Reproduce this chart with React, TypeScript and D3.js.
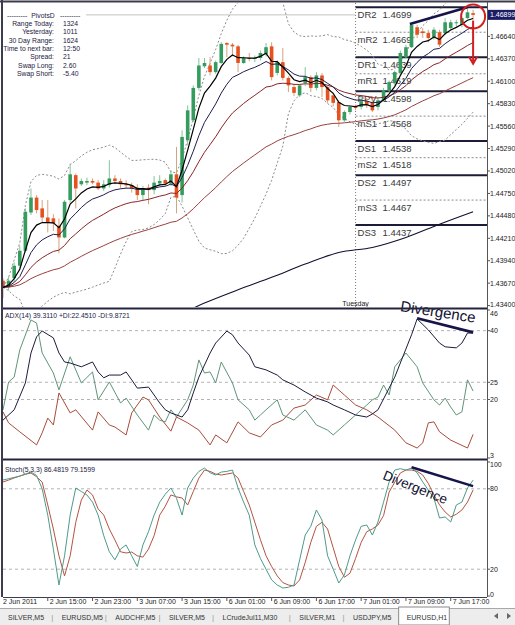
import React from "react";
import * as d3 from "d3";

const W = 515;
const H = 625;
const FONT = "'Liberation Sans', Arial, sans-serif";

// EURUSD H1 candles
const opens = [
  1.4370, 1.4362, 1.4373, 1.4388, 1.4406, 1.4452, 1.4470, 1.4457, 1.4446, 1.4445,
  1.4436, 1.4422, 1.4467, 1.4497, 1.4486, 1.4488, 1.4490, 1.4488, 1.4481, 1.4485,
  1.4493, 1.4490, 1.4486, 1.4485, 1.4482, 1.4473, 1.4482, 1.4479, 1.4487, 1.4491,
  1.4487, 1.4498, 1.4473, 1.4539, 1.4563, 1.4602, 1.4628, 1.4629, 1.4621, 1.4632,
  1.4656, 1.4654, 1.4652, 1.4632, 1.4638, 1.4637, 1.4638, 1.4643, 1.4652, 1.4620,
  1.4633, 1.4614, 1.4603, 1.4593, 1.4608, 1.4615, 1.4602, 1.4617, 1.4603, 1.4593,
  1.4585, 1.4563, 1.4573, 1.4579, 1.4579, 1.4586, 1.4585, 1.4579, 1.4587, 1.4599,
  1.4608, 1.4620, 1.4639, 1.4651, 1.4675, 1.4670, 1.4668, 1.4663, 1.4669, 1.4668,
  1.4674, 1.4680, 1.4678, 1.4686, 1.4692,
];
const highs = [
  1.4373, 1.4375, 1.4392, 1.4412, 1.4457, 1.4481, 1.4473, 1.4467, 1.4467, 1.4450,
  1.4445, 1.4467, 1.4511, 1.4499, 1.4493, 1.4494, 1.4493, 1.4491, 1.4491, 1.4515,
  1.4497, 1.4493, 1.4491, 1.4488, 1.4486, 1.4484, 1.4486, 1.4496, 1.4497, 1.4493,
  1.4503, 1.4531, 1.4551, 1.4581, 1.4605, 1.4638, 1.4638, 1.4639, 1.4635, 1.4657,
  1.4657, 1.4656, 1.4654, 1.4640, 1.4644, 1.4641, 1.4647, 1.4656, 1.4657, 1.4635,
  1.4650, 1.4616, 1.4606, 1.4606, 1.4627, 1.4617, 1.4621, 1.4620, 1.4605, 1.4596,
  1.4587, 1.4575, 1.4581, 1.4582, 1.4593, 1.4590, 1.4592, 1.4591, 1.4602, 1.4611,
  1.4623, 1.4647, 1.4654, 1.4680, 1.4678, 1.4674, 1.4672, 1.4675, 1.4672, 1.4686,
  1.4684, 1.4684, 1.4688, 1.4697, 1.4696,
];
const lows = [
  1.4349, 1.4358, 1.4368, 1.4385, 1.4404, 1.4449, 1.4451, 1.4440, 1.4428, 1.4430,
  1.4403, 1.4421, 1.4464, 1.4457, 1.4484, 1.4485, 1.4486, 1.4479, 1.4478, 1.4482,
  1.4486, 1.4481, 1.4481, 1.4476, 1.4467, 1.4467, 1.4462, 1.4474, 1.4484, 1.4484,
  1.4484, 1.4451, 1.4464, 1.4533, 1.4561, 1.4599, 1.4626, 1.4617, 1.4619, 1.4631,
  1.4639, 1.4640, 1.4621, 1.4631, 1.4634, 1.4633, 1.4635, 1.4640, 1.4611, 1.4617,
  1.4611, 1.4597, 1.4592, 1.4591, 1.4604, 1.4597, 1.4599, 1.4591, 1.4584, 1.4580,
  1.4555, 1.4561, 1.4570, 1.4575, 1.4576, 1.4578, 1.4573, 1.4575, 1.4585, 1.4597,
  1.4605, 1.4617, 1.4637, 1.4650, 1.4662, 1.4662, 1.4657, 1.4660, 1.4651, 1.4666,
  1.4672, 1.4676, 1.4675, 1.4685, 1.4684,
];
const closes = [
  1.4362, 1.4370, 1.4388, 1.4406, 1.4453, 1.4470, 1.4455, 1.4446, 1.4440, 1.4439,
  1.4422, 1.4465, 1.4498, 1.4481, 1.4490, 1.4490, 1.4488, 1.4481, 1.4486, 1.4493,
  1.4490, 1.4486, 1.4485, 1.4481, 1.4473, 1.4481, 1.4479, 1.4488, 1.4490, 1.4487,
  1.4498, 1.4470, 1.4543, 1.4575, 1.4602, 1.4629, 1.4632, 1.4621, 1.4633, 1.4655,
  1.4654, 1.4652, 1.4632, 1.4638, 1.4637, 1.4638, 1.4644, 1.4651, 1.4615, 1.4633,
  1.4614, 1.4605, 1.4596, 1.4605, 1.4615, 1.4602, 1.4617, 1.4603, 1.4587, 1.4584,
  1.4563, 1.4573, 1.4579, 1.4578, 1.4586, 1.4582, 1.4575, 1.4587, 1.4599, 1.4609,
  1.4621, 1.4644, 1.4651, 1.4678, 1.4666, 1.4668, 1.4662, 1.4672, 1.4654, 1.4681,
  1.4681, 1.4681, 1.4686, 1.4693, 1.46899,
];

const timeTickBars = [0, 8, 16, 24, 32, 40, 48, 56, 64, 72, 80];
const timeTickLabels = [
  "2 Jun 2011", "2 Jun 15:00", "2 Jun 23:00", "3 Jun 07:00", "3 Jun 15:00", "6 Jun 01:00",
  "6 Jun 09:00", "6 Jun 17:00", "7 Jun 01:00", "7 Jun 09:00", "7 Jun 17:00",
];
const dayBar = 63;
const dayLabel = "Tuesday";

const pivotNames = ["DR2", "mR2", "DR1", "mR1", "PPV", "mS1", "DS1", "mS2", "DS2", "mS3", "DS3"];
const pivotValues = [1.4699, 1.4669, 1.4639, 1.4619, 1.4598, 1.4568, 1.4538, 1.4518, 1.4497, 1.4467, 1.4437];

const priceTicks = [1.4664, 1.4637, 1.461, 1.4583, 1.4556, 1.4529, 1.4502, 1.4475, 1.4448, 1.4421, 1.4394, 1.4367, 1.434];
const lastPrice = 1.46899;

// long moving average (history before the window), read at sample bars
const ma200: [number, number][] = [
  [30, 1.4324], [36, 1.4343], [42, 1.4359], [48, 1.4374], [54, 1.439],
  [60, 1.4404], [66, 1.441], [72, 1.4422], [78, 1.4438], [84, 1.4453],
];

const adxLine: [number, number][] = [
  [0, 14.0], [2, 17.0], [4, 24.8], [5, 33.5], [6, 38.2], [7, 39.9], [9, 37.9], [10, 33.5], [11, 30.9],
  [12, 30.6], [14, 29.5], [16, 30.9], [17, 28.0], [18, 26.3], [19, 27.1], [21, 27.1], [22, 28.0],
  [23, 25.7], [24, 23.3], [26, 23.6], [27, 21.3], [28, 19.0], [29, 17.0], [30, 16.1], [32, 14.9],
  [33, 17.0], [34, 21.9], [35, 26.5], [37, 33.5], [38, 36.4], [40, 39.9], [41, 38.8], [42, 36.4],
  [44, 32.9], [45, 29.5], [47, 28.6], [49, 27.1], [50, 25.7], [52, 24.2], [54, 22.2], [56, 20.4],
  [58, 19.3], [59, 18.4], [61, 17.0], [63, 15.5], [65, 14.9], [66, 15.8], [67, 17.0], [70, 26.5],
  [73, 38.8], [74, 43.4], [76, 40.2], [78, 36.4], [79, 35.3], [81, 35.0], [82, 36.4], [83, 39.3],
  [84, 39.311],
];
const plusDi: [number, number][] = [
  [0, 17.0], [1, 25.1], [2, 26.5], [3, 34.4], [5, 43.1], [6, 42.2], [7, 33.5], [9, 27.7], [10, 22.8],
  [12, 32.4], [14, 24.8], [16, 28.0], [17, 19.9], [19, 25.1], [21, 19.0], [22, 20.4], [24, 15.5],
  [26, 11.1], [27, 15.5], [28, 14.0], [29, 13.5], [30, 17.0], [31, 14.9], [33, 19.9], [34, 24.2],
  [35, 31.5], [36, 27.7], [37, 28.0], [38, 24.8], [39, 30.9], [41, 24.8], [42, 19.9], [44, 17.0],
  [45, 14.0], [46, 15.5], [47, 17.0], [49, 19.9], [50, 15.5], [52, 14.0], [54, 17.0], [56, 12.6],
  [58, 11.1], [59, 9.7], [61, 12.6], [63, 15.5], [65, 18.4], [66, 19.9], [67, 20.7], [68, 24.2],
  [69, 21.3], [70, 29.5], [71, 31.5], [72, 33.5], [74, 29.5], [75, 24.8], [77, 19.9], [78, 18.4],
  [79, 20.4], [80, 17.8], [81, 15.5], [82, 16.4], [83, 25.7], [84, 22.451],
];
const minusDi: [number, number][] = [
  [0, 16.4], [1, 13.2], [3, 10.6], [6, 6.8], [7, 10.3], [8, 14.6], [9, 12.6], [10, 21.9], [12, 16.1],
  [13, 17.0], [16, 11.1], [17, 16.4], [19, 12.6], [20, 12.0], [22, 9.7], [23, 16.1], [25, 20.7],
  [26, 19.9], [28, 14.9], [30, 10.8], [31, 14.9], [33, 13.2], [35, 11.1], [37, 6.8], [38, 9.7],
  [40, 7.4], [42, 13.5], [44, 10.3], [46, 9.1], [48, 12.6], [50, 14.0], [52, 17.5], [54, 18.4],
  [56, 21.3], [58, 19.9], [59, 24.2], [61, 21.3], [63, 18.4], [65, 17.0], [67, 14.9], [70, 11.1],
  [72, 7.4], [74, 5.9], [75, 7.4], [76, 13.2], [77, 13.5], [78, 10.6], [80, 8.2], [83, 5.9],
  [84, 9.8721],
];
const adxLevels = [40, 25, 20];
const adxAxisLabels = [46, 40, 25, 20, 3];

const stochMain = [
  86.6, 87.5, 88.5, 89.5, 91.0, 92.5, 90.0, 80.0, 60.4, 35.0,
  8.2, 30.0, 60.4, 80.6, 78.0, 75.4, 70.0, 60.4, 45.0, 33.0,
  27.0, 35.0, 38.1, 30.0, 22.0, 38.1, 48.0, 60.4, 70.0, 76.0,
  80.6, 73.0, 60.4, 80.6, 88.0, 93.0, 95.5, 92.0, 90.3, 92.5,
  93.0, 94.0, 80.6, 70.0, 60.4, 38.1, 28.0, 20.0, 12.0, 8.2,
  6.0, 6.5, 8.2, 26.9, 45.5, 52.0, 64.2, 56.7, 30.0, 20.0,
  9.7, 15.7, 30.0, 41.8, 52.0, 53.0, 45.5, 55.2, 70.0, 85.1,
  94.0, 95.0, 94.0, 95.5, 92.0, 85.1, 79.0, 73.1, 58.2, 59.0,
  55.2, 67.9, 70.1, 80.6, 86.4819,
];
const stochSignal = [
  85.1, 86.5, 88.1, 89.5, 90.8, 91.8, 89.0, 85.0, 67.9, 50.0,
  30.0, 15.0, 30.0, 55.0, 71.6, 79.1, 75.4, 65.0, 60.4, 50.0,
  41.8, 33.0, 32.1, 32.8, 30.0, 29.0, 35.0, 45.0, 60.4, 67.0,
  75.4, 74.0, 73.1, 67.9, 78.0, 88.0, 94.0, 93.0, 91.0, 90.3,
  91.0, 91.8, 88.0, 78.0, 67.9, 55.0, 42.0, 30.0, 22.0, 15.0,
  10.0, 8.2, 7.5, 12.0, 25.0, 40.0, 52.0, 55.0, 50.0, 36.0,
  22.0, 14.0, 17.0, 28.0, 40.0, 48.0, 50.0, 53.0, 60.0, 77.6,
  85.0, 91.8, 94.0, 94.0, 93.0, 90.3, 84.0, 75.4, 68.0, 62.7,
  59.0, 61.0, 64.2, 70.1, 79.1599,
];
const stochLevels = [80, 20];
const stochAxisLabels = [100, 80, 20, 0];

const infoLabels = ["Range  Today:", "Yesterday:", "30 Day Range:", "Time to next bar:", "Spread:", "Swap  Long:", "Swap  Short:"];
const infoValues = ["1324", "1011", "1624", "12:50", "21", "2.60", "-5.40"];

const tabNames = ["SILVER,M5", "EURUSD,M5", "AUDCHF,M5", "SILVER,M5", "LCrudeJul11,M30", "SILVER,M1", "USDJPY,M5", "EURUSD,H1"];

// hand-drawn marks on the screenshot
const priceTrend: [number, number][] = [[72.7, 1.4679], [83, 1.4699]];
const adxTrend: [number, number][] = [[74, 43.6], [84, 39.5]];
const stochTrend: [number, number][] = [[73, 96], [84, 82]];

const ema = (vals: number[], period: number) => {
  const k = 2 / (period + 1);
  let prev = vals[0];
  return vals.map((v, i) => (prev = i === 0 ? v : v * k + prev * (1 - k)));
};

const bollinger = (vals: number[], period: number, dev: number) =>
  vals.map((_, i) => {
    const w = vals.slice(Math.max(0, i - period + 1), i + 1);
    const m = d3.mean(w) as number;
    const sd = Math.sqrt(d3.mean(w, (v) => (v - m) * (v - m)) as number);
    return [m + dev * sd, m - dev * sd];
  });

export default function App() {
  const plotL = 3;
  const plotR = 487;
  const mainP = { top: 3, bottom: 307 };
  const adxP = { top: 310, bottom: 458 };
  const stP = { top: 461, bottom: 597 };

  const x = d3.scaleLinear().domain([0, closes.length - 1]).range([3, 473.1]);
  const y = d3.scaleLinear().domain([1.434, 1.4699]).range([305.6, 7.3]);
  const yA = d3.scaleLinear().domain([3, 46]).range([458, 310]);
  const yS = d3.scaleLinear().domain([0, 100]).range([596, 462]);

  const pathOf = (pts: [number, number][], sy: d3.ScaleLinear<number, number>, curve: d3.CurveFactory = d3.curveLinear) =>
    d3.line<[number, number]>().x((d) => x(d[0])).y((d) => sy(d[1])).curve(curve)(pts) || "";
  const series = (vals: number[]) => vals.map((v, i) => [i, v] as [number, number]);

  const bb = bollinger(closes, 20, 2);
  const emas = [
    { vals: ema(closes, 50), color: "#9a4040", w: 1 },
    { vals: ema(closes, 20), color: "#8a2424", w: 1 },
    { vals: ema(closes, 10), color: "#1e1e4e", w: 1 },
    { vals: ema(closes, 5), color: "#000000", w: 1.2 },
  ];

  const bullBody = "#359b5e";
  const bullWick = "#86c29e";
  const bearBody = "#e6521f";
  const bearWick = "#d6a27c";
  const dark = "#1a1a40";
  const sepX = x(dayBar);

  const axisLabel = (key: string, yy: number, top: number, bottom: number, label: string) => {
    const cy = Math.min(Math.max(yy, top + 3.5), bottom - 3);
    return (
      <g key={key}>
        <line x1={plotR} x2={plotR + 3} y1={yy} y2={yy} stroke="#555" />
        <text x={490} y={cy + 2.5} fontSize={7} fill="#222">{label}</text>
      </g>
    );
  };

  const annot = "#15154a";

  // tab layout
  const tabGap = 19;
  let tabCursor = 8;
  const tabs = tabNames.map((t) => {
    const w = t.length * 3.85;
    const tx = tabCursor;
    tabCursor += w + tabGap;
    return { t, tx, w };
  });

  return (
    <svg width={W} height={H} viewBox={`0 0 ${W} ${H}`} fontFamily={FONT}
      style={{ position: "fixed", left: 0, top: 0, background: "#fff" }}>
      <defs>
        <clipPath id="cMain"><rect x={plotL} y={mainP.top} width={plotR - plotL} height={mainP.bottom - mainP.top} /></clipPath>
        <clipPath id="cAdx"><rect x={plotL} y={adxP.top} width={plotR - plotL} height={adxP.bottom - adxP.top} /></clipPath>
        <clipPath id="cSt"><rect x={plotL} y={stP.top} width={plotR - plotL} height={stP.bottom - stP.top} /></clipPath>
      </defs>
      <rect x={0} y={0} width={W} height={H} fill="#fff" />

      {/* main panel */}
      <g clipPath="url(#cMain)">
        <line x1={86} x2={sepX} y1={y(lastPrice)} y2={y(lastPrice)} stroke="#c4c4c4" />
        <line x1={sepX} x2={sepX} y1={mainP.top} y2={mainP.bottom} stroke="#7a7a7a" strokeDasharray="1,2" />
        {pivotNames.map((name, k) => {
          const py = y(pivotValues[k]);
          const solid = !name.startsWith("m");
          return (
            <g key={name + k}>
              <line x1={sepX} x2={plotR} y1={py} y2={py} stroke={solid ? "#1c1c38" : "#8a8a8a"}
                strokeWidth={solid ? 2 : 1} strokeDasharray={solid ? undefined : "2,2"} />
              <text x={sepX + 2} y={py + 10.5} fontSize={9.5} fill="#3a3a3a">{name}</text>
              <text x={sepX + 27} y={py + 10.5} fontSize={9.5} fill="#3a3a3a">{pivotValues[k].toFixed(4)}</text>
            </g>
          );
        })}
        <path d={pathOf(bb.map((b, i) => [i, b[0]] as [number, number]), y)} fill="none" stroke="#8c8c8c" strokeDasharray="2,2" />
        <path d={pathOf(bb.map((b, i) => [i, b[1]] as [number, number]), y)} fill="none" stroke="#8c8c8c" strokeDasharray="2,2" />
        <path d={pathOf(ma200, y, d3.curveMonotoneX)} fill="none" stroke="#101030" strokeWidth={1.1} />
        {closes.map((c, i) => {
          const o = opens[i];
          const bull = c >= o;
          const top = y(Math.max(o, c));
          const h = Math.max(1, Math.abs(y(o) - y(c)));
          return (
            <g key={i}>
              <line x1={x(i)} x2={x(i)} y1={y(highs[i])} y2={y(lows[i])} stroke={bull ? bullWick : bearWick} />
              <rect x={x(i) - 1.8} y={top} width={3.6} height={h} fill={bull ? bullBody : bearBody} />
            </g>
          );
        })}
        {emas.map((e, k) => (
          <path key={k} d={pathOf(series(e.vals), y)} fill="none" stroke={e.color} strokeWidth={e.w} />
        ))}
        <text x={sepX} y={mainP.bottom - 1.5} fontSize={7} fill="#222" textAnchor="middle">{dayLabel}</text>
      </g>

      {/* PivotsD info */}
      <g fontSize={6.8} fill={dark}>
        <text x={7} y={17.5}>---------</text>
        <text x={43} y={17.5} textAnchor="middle">PivotsD</text>
        <text x={60} y={17.5}>---------</text>
        {infoLabels.map((l, k) => (
          <g key={l}>
            <text x={54} y={26 + k * 8.3} textAnchor="end">{l}</text>
            <text x={63} y={26 + k * 8.3}>{infoValues[k]}</text>
          </g>
        ))}
      </g>

      {/* annotations on price */}
      <path d={pathOf(priceTrend, y)} stroke={annot} strokeWidth={2.6} fill="none" />
      <circle cx={x(closes.length - 1)} cy={y(1.4688)} r={12} fill="none" stroke="#d21f1f" strokeWidth={2} />
      <line x1={x(closes.length - 1)} x2={x(closes.length - 1)} y1={y(1.4683)} y2={y(1.4631)} stroke="#d21f1f" strokeWidth={2} />
      <polyline points={`${x(84) - 4},${y(1.4631) - 7} ${x(84)},${y(1.4631)} ${x(84) + 4},${y(1.4631) - 7}`}
        fill="none" stroke="#d21f1f" strokeWidth={2} />

      {/* ADX panel */}
      <g clipPath="url(#cAdx)">
        {adxLevels.map((v) => (
          <line key={v} x1={plotL} x2={plotR} y1={yA(v)} y2={yA(v)} stroke="#b4b4b4" strokeDasharray="3,3" />
        ))}
        <path d={pathOf(minusDi, yA)} fill="none" stroke="#a84c3a" />
        <path d={pathOf(plusDi, yA)} fill="none" stroke="#5f9577" />
        <path d={pathOf(adxLine, yA)} fill="none" stroke="#1c1c3c" />
        <path d={pathOf(adxTrend, yA)} stroke={annot} strokeWidth={2.6} fill="none" />
      </g>
      <text x={5} y={318} fontSize={6.8} fill={dark}>ADX(14) 39.3110 +DI:22.4510 -DI:9.8721</text>

      {/* Stochastic panel */}
      <g clipPath="url(#cSt)">
        {stochLevels.map((v) => (
          <line key={v} x1={plotL} x2={plotR} y1={yS(v)} y2={yS(v)} stroke="#b4b4b4" strokeDasharray="3,3" />
        ))}
        <path d={pathOf(series(stochSignal), yS)} fill="none" stroke="#b5533f" />
        <path d={pathOf(series(stochMain), yS)} fill="none" stroke="#4f9a8a" />
        <path d={pathOf(stochTrend, yS)} stroke={annot} strokeWidth={2.6} fill="none" />
      </g>
      <text x={5} y={472} fontSize={6.8} fill={dark}>Stoch(5,3,3) 86.4819 79.1599</text>

      {/* hand-written labels */}
      <text transform={`translate(${x(70.9)},${yA(45.7)}) rotate(9)`} fontSize={15} fill="#101030">Divergence</text>
      <text transform={`translate(${x(67.7)},${yS(87.5)}) rotate(22)`} fontSize={13.5} fill="#101030">Divergence</text>

      {/* frames */}
      <line x1={0} x2={W} y1={1.5} y2={1.5} stroke="#3c3c4c" strokeWidth={2} />
      <line x1={2} x2={2} y1={0} y2={stP.bottom} stroke="#3c3c4c" strokeWidth={2} />
      <line x1={plotL} x2={plotR} y1={308.5} y2={308.5} stroke="#24243e" strokeWidth={2} />
      <line x1={plotL} x2={plotR} y1={459.5} y2={459.5} stroke="#24243e" strokeWidth={2} />
      <line x1={plotL} x2={plotR} y1={stP.bottom + 0.5} y2={stP.bottom + 0.5} stroke="#3c3c4c" />
      <line x1={plotR + 0.5} x2={plotR + 0.5} y1={2} y2={stP.bottom} stroke="#555" />

      {/* right axes */}
      {priceTicks.map((p) => axisLabel("p" + p, y(p), mainP.top, mainP.bottom, p.toFixed(5)))}
      <rect x={488} y={y(lastPrice) - 5} width={27} height={10} fill="#1b1b66" />
      <text x={490} y={y(lastPrice) + 2.5} fontSize={7} fill="#fff">{lastPrice.toFixed(5)}</text>
      {adxAxisLabels.map((v) => axisLabel("a" + v, yA(v), adxP.top, adxP.bottom, String(v)))}
      {stochAxisLabels.map((v) => axisLabel("s" + v, yS(v), stP.top, stP.bottom, String(v)))}

      {/* time axis */}
      {timeTickBars.map((b, k) => (
        <g key={b}>
          {k > 0 && <line x1={x(b)} x2={x(b)} y1={stP.bottom} y2={stP.bottom + 4} stroke="#555" />}
          <text x={k === 0 ? 3 : x(b) + 2} y={604} fontSize={7} fill="#222">{timeTickLabels[k]}</text>
        </g>
      ))}

      {/* tab bar */}
      <rect x={0} y={608} width={W} height={17} fill="#ededed" />
      <line x1={0} x2={W} y1={608.5} y2={608.5} stroke="#a8a8a8" />
      {tabs.map(({ t, tx, w }, k) => {
        const active = k === tabs.length - 1;
        return (
          <g key={k}>
            {active && <rect x={tx - 8} y={607} width={w + 16} height={18} fill="#fff" stroke="#8a8a8a" />}
            <text x={tx} y={620} fontSize={7} fill="#333">{t}</text>
            {k < tabs.length - 2 && <text x={tx + w + tabGap / 2 - 1} y={620} fontSize={8} fill="#999">|</text>}
          </g>
        );
      })}
      <polygon points="494,616 498,613 498,619" fill="#666" />
      <polygon points="507,613 511,616 507,619" fill="#666" />
    </svg>
  );
}
